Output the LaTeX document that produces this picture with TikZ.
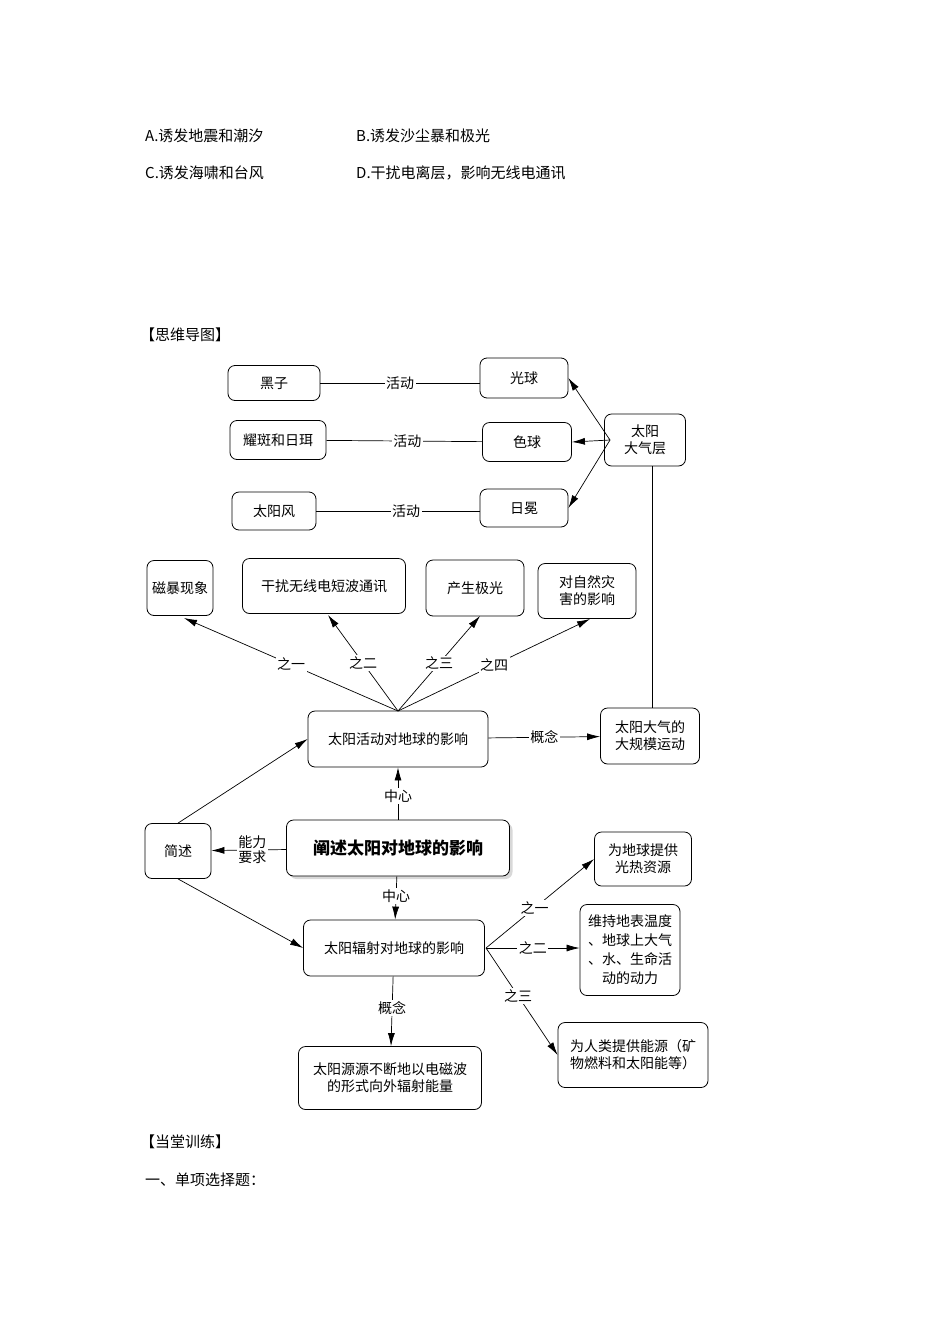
\documentclass[tikz,border=0pt]{standalone}
\usepackage{fontspec}
\setmainfont{Noto Sans CJK SC}
\usetikzlibrary{arrows.meta,shadows}
\begin{document}
\begin{tikzpicture}[x=1pt,y=-1pt,
  box/.style={draw,rounded corners=7pt,line width=0.8pt,align=center,font=\fontsize{14}{17}\selectfont,inner sep=2pt},
  lbl/.style={fill=white,font=\fontsize{14}{16}\selectfont,inner sep=1.5pt},
  txt/.style={anchor=west,font=\fontsize{15}{18}\selectfont,inner sep=0pt},
  ar/.style={-{Latex[length=13pt,width=7pt]},line width=0.7pt},
  ln/.style={line width=0.7pt}]
\useasboundingbox (0,0) rectangle (950,1344);
\node[txt] (qa) at (145,136) {A.诱发地震和潮汐};
\node[txt] (qb) at (356,136) {B.诱发沙尘暴和极光};
\node[txt] (qc) at (145,173) {C.诱发海啸和台风};
\node[txt] (qd) at (356,173) {D.干扰电离层，影响无线电通讯};
\node[txt] (h1) at (140,335) {【思维导图】};
\node[txt] (h2) at (140,1142) {【当堂训练】};
\node[txt] (h3) at (145,1180) {一、单项选择题：};

\node[box,minimum width=92pt,minimum height=35pt] (hz) at (274,383) {黑子};
\node[box,minimum width=88pt,minimum height=40pt] (gq) at (524,378) {光球};
\node[box,minimum width=96pt,minimum height=39pt] (yb) at (278,440) {耀斑和日珥};
\node[box,minimum width=89pt,minimum height=39pt] (sq) at (527,442) {色球};
\node[box,minimum width=84pt,minimum height=38pt] (tyf) at (274,511) {太阳风};
\node[box,minimum width=88pt,minimum height=38pt] (rm) at (524,508) {日冕};
\node[box,minimum width=81pt,minimum height=52pt] (dqc) at (645,440) {太阳\\大气层};

\node[box,minimum width=66pt,minimum height=55pt] (cb) at (180,588) {磁暴现象};
\node[box,minimum width=163pt,minimum height=55pt] (gr) at (324,586) {干扰无线电短波通讯};
\node[box,minimum width=98pt,minimum height=56pt] (jg) at (475,588) {产生极光};
\node[box,minimum width=98pt,minimum height=55pt] (zr) at (587,591) {对自然灾\\害的影响};
\node[box,minimum width=180pt,minimum height=56pt] (hd) at (398,739) {太阳活动对地球的影响};
\node[box,minimum width=99pt,minimum height=56pt] (gm) at (650,736) {太阳大气的\\大规模运动};
\node[box,minimum width=66pt,minimum height=55pt] (js) at (178,851) {简述};
\node[box,minimum width=223pt,minimum height=56pt,drop shadow={shadow xshift=3pt,shadow yshift=-3pt,fill=gray!60},fill=white,font=\fontsize{17}{20}\selectfont\bfseries] (cs) at (398,848) {阐述太阳对地球的影响};
\node[box,minimum width=181pt,minimum height=56pt] (fs) at (394,948) {太阳辐射对地球的影响};
\node[box,minimum width=97pt,minimum height=54pt] (gr1) at (643,859) {为地球提供\\光热资源};
\node[box,minimum width=100pt,minimum height=91pt,font=\fontsize{14}{19}\selectfont] (ws) at (630,950) {维持地表温度\\、地球上大气\\、水、生命活\\动的动力};
\node[box,minimum width=150pt,minimum height=65pt] (rl) at (633,1055) {为人类提供能源（矿\\物燃料和太阳能等）};
\node[box,minimum width=183pt,minimum height=63pt] (yy) at (390,1078) {太阳源源不断地以电磁波\\的形式向外辐射能量};

\draw[ln] (hz) -- node[lbl,pos=0.5]{活动} (gq.west|-hz);
\draw[ln] (yb) -- node[lbl,pos=0.52]{活动} (sq);
\draw[ln] (tyf) -- node[lbl,pos=0.55]{活动} (rm.west|-tyf);
\coordinate (dqw) at (610,440);
\draw[ar] (dqw) -- (gq.east);
\draw[ar] (dqw) -- (sq.east);
\draw[ar] (dqw) -- (rm.east);
\draw[ln] (dqc.south-|652,0) -- (gm.north-|652,0);

\coordinate (hdt) at (398,711);
\draw[ar] (hdt) -- node[lbl,pos=0.5]{之一} (184,618);
\draw[ar] (hdt) -- node[lbl,pos=0.5]{之二} (328,615);
\draw[ar] (hdt) -- node[lbl,pos=0.5]{之三} (480,616);
\draw[ar] (hdt) -- node[lbl,pos=0.5]{之四} (590,619);
\draw[ar] (hd) -- node[lbl,pos=0.5]{概念} (gm);
\draw[ar] (cs) -- node[lbl,pos=0.45]{中心} (hd);
\draw[ar] (cs) -- node[lbl,pos=0.45,align=center,font=\fontsize{14}{15}\selectfont]{能力\\要求} (js);
\draw[ar] (cs) -- node[lbl,pos=0.45]{中心} (fs);
\draw[ar] (js.north) -- (hd.west);
\draw[ar] (js.south) -- (fs.west);
\coordinate (fse) at (486,948);
\draw[ar] (fse) -- node[lbl,pos=0.45]{之一} (gr1.west);
\draw[ar] (fse) -- node[lbl,pos=0.5]{之二} (ws.west|-fse);
\draw[ar] (fse) -- node[lbl,pos=0.45]{之三} (rl.west);
\draw[ar] (fs) -- node[lbl,pos=0.45]{概念} (yy);
\end{tikzpicture}
\end{document}
